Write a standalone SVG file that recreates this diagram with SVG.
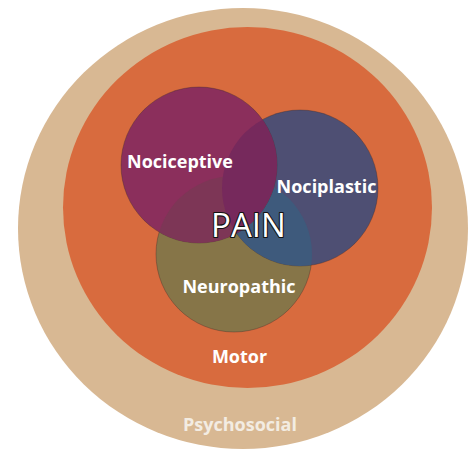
<svg xmlns="http://www.w3.org/2000/svg" width="474" height="455" viewBox="0 0 474 455">
<style>
.lbl{font-family:"Open Sans","Liberation Sans",sans-serif;font-weight:700;fill:#ffffff;text-anchor:middle}
.ring{stroke:none}
.c{stroke:#3a2a2a;stroke-width:0.6;stroke-opacity:0.6}
</style>
<defs>
<clipPath id="clipP"><circle cx="199" cy="165" r="78"/></clipPath>
<clipPath id="clipB"><circle cx="300" cy="188" r="78"/></clipPath>
</defs>
<rect width="474" height="455" fill="#ffffff"/>
<g id="psychosocial">
<ellipse class="ring" cx="243" cy="228.5" rx="225" ry="220.5" fill="#d8b893"/>
<text class="lbl" x="240" y="431" font-size="18" style="fill:#f3ece2">Psychosocial</text>
</g>
<g id="motor">
<ellipse class="ring" cx="247.5" cy="207.5" rx="184.5" ry="180.5" fill="#d86b3e"/>
<text class="lbl" x="239.5" y="363" font-size="18">Motor</text>
</g>
<g id="neuropathic">
<circle class="c" cx="234" cy="254" r="78" fill="#867548"/>
</g>
<g id="nociplastic">
<circle class="c" cx="300" cy="188" r="78" fill="#4e4f73"/>
<circle cx="234" cy="254" r="78" fill="#3e5a7c" clip-path="url(#clipB)"/>
</g>
<g id="nociceptive">
<circle class="c" cx="199" cy="165" r="78" fill="#8b2f5c"/>
<circle cx="234" cy="254" r="78" fill="#7d3656" clip-path="url(#clipP)"/>
<g clip-path="url(#clipP)"><circle cx="300" cy="188" r="78" fill="#76295c"/></g>
</g>
<g id="labels">
<text class="lbl" x="180" y="168" font-size="18">Nociceptive</text>
<text class="lbl" x="326.5" y="193" font-size="18">Nociplastic</text>
<text class="lbl" x="239" y="293" font-size="18">Neuropathic</text>
</g>
<g id="pain">
<text x="248.5" y="237" font-family="'Open Sans','Liberation Sans',sans-serif" font-size="33" text-anchor="middle" fill="#ffffff" stroke="#111111" stroke-width="2.2" paint-order="stroke" stroke-linejoin="round">PAIN</text>
</g>
<g id="connectors"/>
</svg>
